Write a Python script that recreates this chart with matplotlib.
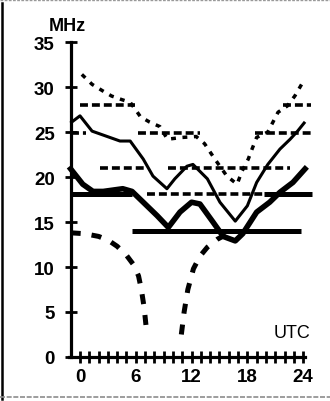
import numpy as np
import matplotlib
matplotlib.use("Agg")
import matplotlib.pyplot as plt
from matplotlib.lines import Line2D

plt.rcParams['font.family'] = ['Liberation Sans', 'DejaVu Sans']

# upper dotted curve (MUF)
muf_hours = [0.2, 1.3, 2.4, 3.4, 4.5, 5.4, 6.1, 6.5, 7.5, 8.6, 9.4, 11.0, 12.5, 13.4,
             14.5, 15.8, 16.9, 17.4, 18.1, 18.5, 19.0, 20.2, 20.8, 21.3, 22.3, 23.1, 24.0]
muf_mhz = [31.4, 30.3, 29.6, 29.0, 28.6, 28.3, 27.3, 26.7, 26.1, 25.6, 24.2, 24.4, 24.5, 23.7,
           22.0, 20.1, 19.2, 20.6, 22.0, 23.1, 24.4, 25.0, 26.2, 27.2, 27.9, 29.0, 30.6]

# thin solid curve
fot_hours = [-0.9, 0.0, 1.3, 4.3, 5.4, 6.8, 7.85, 9.35, 10.2, 11.5, 12.15, 13.7, 15.05,
             16.7, 18.0, 19.0, 20.2, 21.5, 22.6, 23.4, 24.1]
fot_mhz = [26.1, 26.8, 25.1, 24.0, 24.0, 22.0, 20.1, 18.7, 19.8, 21.2, 21.4, 19.8, 17.2,
           15.1, 16.8, 19.4, 21.4, 23.1, 24.2, 25.1, 26.0]

# thick solid curve
low_hours = [-1.0, 0.3, 1.4, 2.5, 4.6, 5.6, 6.8, 8.3, 9.5, 10.75, 12.0, 12.9, 14.3, 15.4,
             16.7, 17.5, 19.0, 20.4, 21.5, 22.9, 24.2]
low_mhz = [20.9, 19.2, 18.4, 18.4, 18.7, 18.4, 17.2, 15.7, 14.4, 16.1, 17.2, 17.0, 15.0, 13.4,
           12.9, 13.7, 16.1, 17.2, 18.3, 19.4, 20.9]

# lower thick dashed curve (LUF), broken around noon
luf_hours = [-1.0, 0.5, 2.0, 3.0, 4.0, 5.0, 5.8, 6.3, 6.6, 6.9, 7.2, np.nan,
             10.9, 11.2, 11.6, 12.2, 12.9, 13.7, 14.8, 15.9]
luf_mhz = [13.8, 13.7, 13.4, 13.0, 12.3, 11.3, 10.2, 9.0, 7.5, 5.5, 2.5, np.nan,
           2.5, 5.0, 7.5, 9.8, 11.2, 12.2, 13.1, 13.7]

# band lines: (MHz, start hour, end hour)
band_dashed = [(28.0, 0.0, 5.9), (28.0, 21.8, 24.8),
               (24.9, -1.0, 0.6), (24.9, 6.2, 12.9), (24.9, 18.8, 24.9),
               (21.0, 2.2, 7.2), (21.0, 9.5, 22.6),
               (18.1, 7.2, 19.8)]
band_solid = [(18.1, -1.0, 5.6), (18.1, 19.8, 25.0), (14.0, 5.6, 23.8)]

yticks = [0, 5, 10, 15, 20, 25, 30, 35]
xticks = [0, 6, 12, 18, 24]

fig = plt.figure(figsize=(3.3, 4.02), dpi=100)
ax = fig.add_axes([0.186, 0.0983, 0.789, 0.817])
ax.set_xlim(-2, 26)
ax.set_ylim(-0.5, 36)

for v, a, b in band_dashed:
    ax.plot([a, b], [v, v], color='black', lw=2.6, linestyle=(0, (2.2, 1.1)),
            solid_capstyle='butt')
for v, a, b in band_solid:
    ax.plot([a, b], [v, v], color='black', lw=3.6, solid_capstyle='butt')

ax.plot(muf_hours, muf_mhz, color='black', lw=2.5, linestyle=(0, (1.4, 1.9)))
ax.plot(fot_hours, fot_mhz, color='black', lw=2.2)
ax.plot(low_hours, low_mhz, color='black', lw=4.0, solid_joinstyle='round')
ax.plot(luf_hours, luf_mhz, color='black', lw=3.6, linestyle=(0, (2.0, 2.2)))

for s in ['top', 'right']:
    ax.spines[s].set_visible(False)
ax.spines['left'].set_position(('data', -1))
ax.spines['bottom'].set_position(('data', 0))
ax.spines['left'].set_bounds(0, 35)
ax.spines['bottom'].set_bounds(-1.2, 24.2)
ax.spines['left'].set_linewidth(2.3)
ax.spines['bottom'].set_linewidth(2.3)

ax.set_yticks(yticks)
ax.set_xticks(xticks)
ax.set_xticks(range(0, 25), minor=True)
ax.tick_params(axis='y', direction='inout', length=9, width=2, pad=7,
               labelsize=13.5)
ax.tick_params(axis='x', which='both', direction='inout', length=8, width=2, pad=4)
ax.tick_params(axis='x', which='major', labelsize=13.5)
for lab in ax.get_xticklabels() + ax.get_yticklabels():
    lab.set_fontweight('bold')

ax.text(-1.4, 36.3, 'MHz', ha='center', va='baseline', fontsize=13,
        fontweight='bold', clip_on=False)
ax.text(22.8, 2.2, 'UTC', ha='center', va='baseline', fontsize=13)

# frame of the scanned figure
fig.add_artist(Line2D([0.005, 0.005], [0.005, 0.99], transform=fig.transFigure,
                      color='black', lw=1.8))
fig.add_artist(Line2D([0.0, 1.0], [0.998, 0.998], transform=fig.transFigure,
                      color='0.6', lw=1, linestyle=(0, (2, 1))))
fig.add_artist(Line2D([0.0, 1.0], [0.01, 0.01], transform=fig.transFigure,
                      color='0.55', lw=1.2, linestyle=(0, (3, 1))))

fig.savefig('out.png', dpi=100)
